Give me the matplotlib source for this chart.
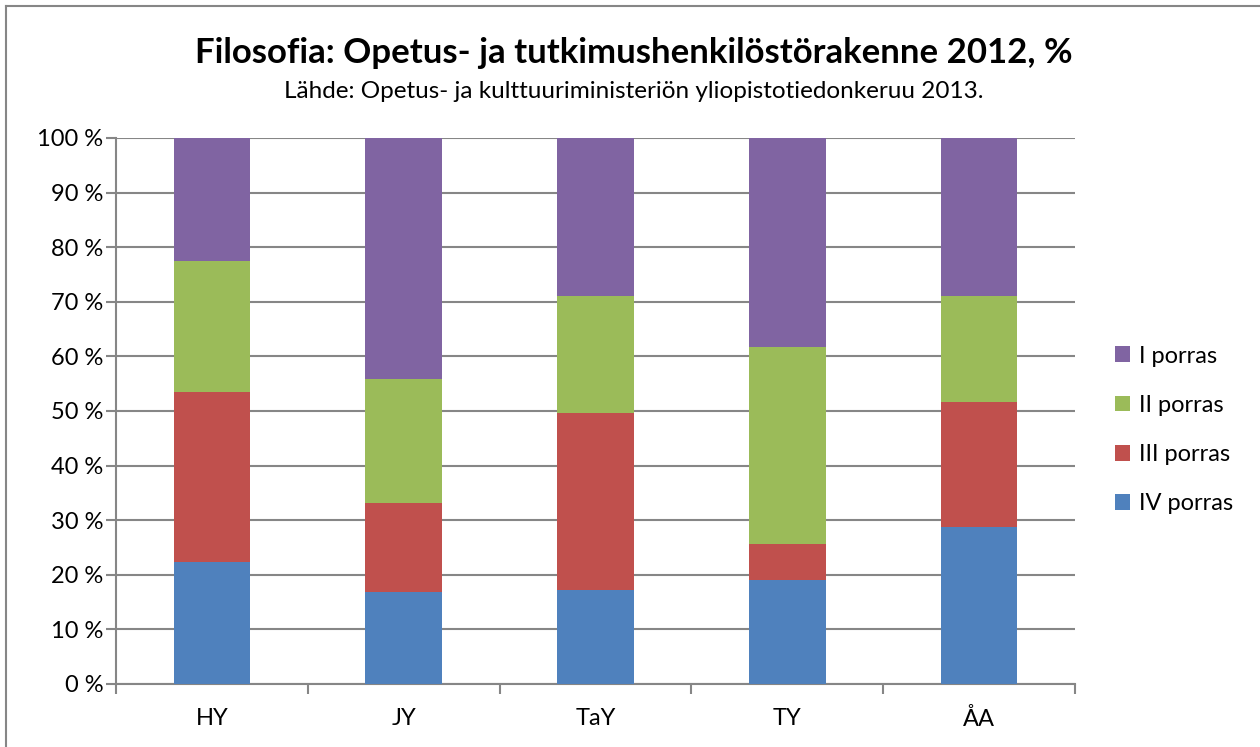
import numpy as np
import matplotlib
matplotlib.use("Agg")
import matplotlib.pyplot as plt
from matplotlib.lines import Line2D

plt.rcParams['font.family'] = ['Lato', 'DejaVu Sans']

universities = ['HY', 'JY', 'TaY', 'TY', 'ÅA']

# shares (%), bottom to top
porras_iv = [22.3, 16.8, 17.2, 19.0, 28.8]
porras_iii = [31.1, 16.3, 32.4, 6.7, 22.9]
porras_ii = [24.1, 22.8, 21.5, 36.0, 19.4]
porras_i = [22.5, 44.1, 28.9, 38.3, 28.9]

series_names = ['IV porras', 'III porras', 'II porras', 'I porras']
series_colors = ['#4f81bd', '#c0504d', '#9bbb59', '#8064a2']

grid_col = '#868686'


def plot_chart():
    fig = plt.figure(figsize=(12.6, 7.47), dpi=100)
    ax = fig.add_axes([116 / 1260, 1 - 684 / 747, (1075 - 116) / 1260, (684 - 138) / 747])

    x = np.arange(len(universities))
    bottom = np.zeros(len(universities))
    bars = []
    for vals, name, col in zip([porras_iv, porras_iii, porras_ii, porras_i], series_names, series_colors):
        b = ax.bar(x, vals, width=0.4, bottom=bottom, color=col, label=name, zorder=3)
        bars.append(b)
        bottom = bottom + np.array(vals)

    ax.set_xlim(-0.5, len(universities) - 0.5)
    ax.set_ylim(0, 100)
    ax.set_yticks(np.arange(0, 101, 10))
    ax.set_yticklabels(['%d %%' % v for v in range(0, 101, 10)], fontsize=17)
    ax.set_xticks(x)
    ax.set_xticklabels(universities, fontsize=17)
    ax.set_xticks(np.arange(-0.5, len(universities), 1), minor=True)
    ax.tick_params(axis='x', which='major', length=0, pad=17)
    ax.tick_params(axis='x', which='minor', length=7, width=1.5, color=grid_col, direction='out')
    ax.tick_params(axis='y', length=7, width=1.5, color=grid_col, pad=2)

    ax.yaxis.grid(True, color=grid_col, linewidth=1.5, zorder=0)
    ax.set_axisbelow(True)
    for side in ['top', 'right']:
        ax.spines[side].set_visible(False)
    for side in ['left', 'bottom']:
        ax.spines[side].set_color(grid_col)
        ax.spines[side].set_linewidth(1.5)

    # legend, top entry first
    handles = bars[::-1]
    labels = series_names[::-1]
    fig.legend(handles, labels, loc='center left', bbox_to_anchor=(1115 / 1260, 1 - 430 / 747),
               frameon=False, fontsize=17, handlelength=0.65, handleheight=0.65,
               handletextpad=0.35, labelspacing=1.2, borderaxespad=0, borderpad=0)

    fig.text(634 / 1260, 1 - 53 / 747, 'Filosofia: Opetus- ja tutkimushenkilöstörakenne 2012, %',
             ha='center', va='center', fontsize=25, fontweight='bold')
    fig.text(634 / 1260, 1 - 91 / 747, 'Lähde: Opetus- ja kulttuuriministeriön yliopistotiedonkeruu 2013.',
             ha='center', va='center', fontsize=17.5)

    # chart border (only top and left edges are visible)
    fig.add_artist(Line2D([6 / 1260, 6 / 1260], [0, 1 - 6 / 747], color=grid_col, linewidth=1.5))
    fig.add_artist(Line2D([6 / 1260, 1], [1 - 6 / 747, 1 - 6 / 747], color=grid_col, linewidth=1.5))

    fig.savefig('out.png', dpi=100)


def main():
    plot_chart()


if __name__ == '__main__':
    main()
